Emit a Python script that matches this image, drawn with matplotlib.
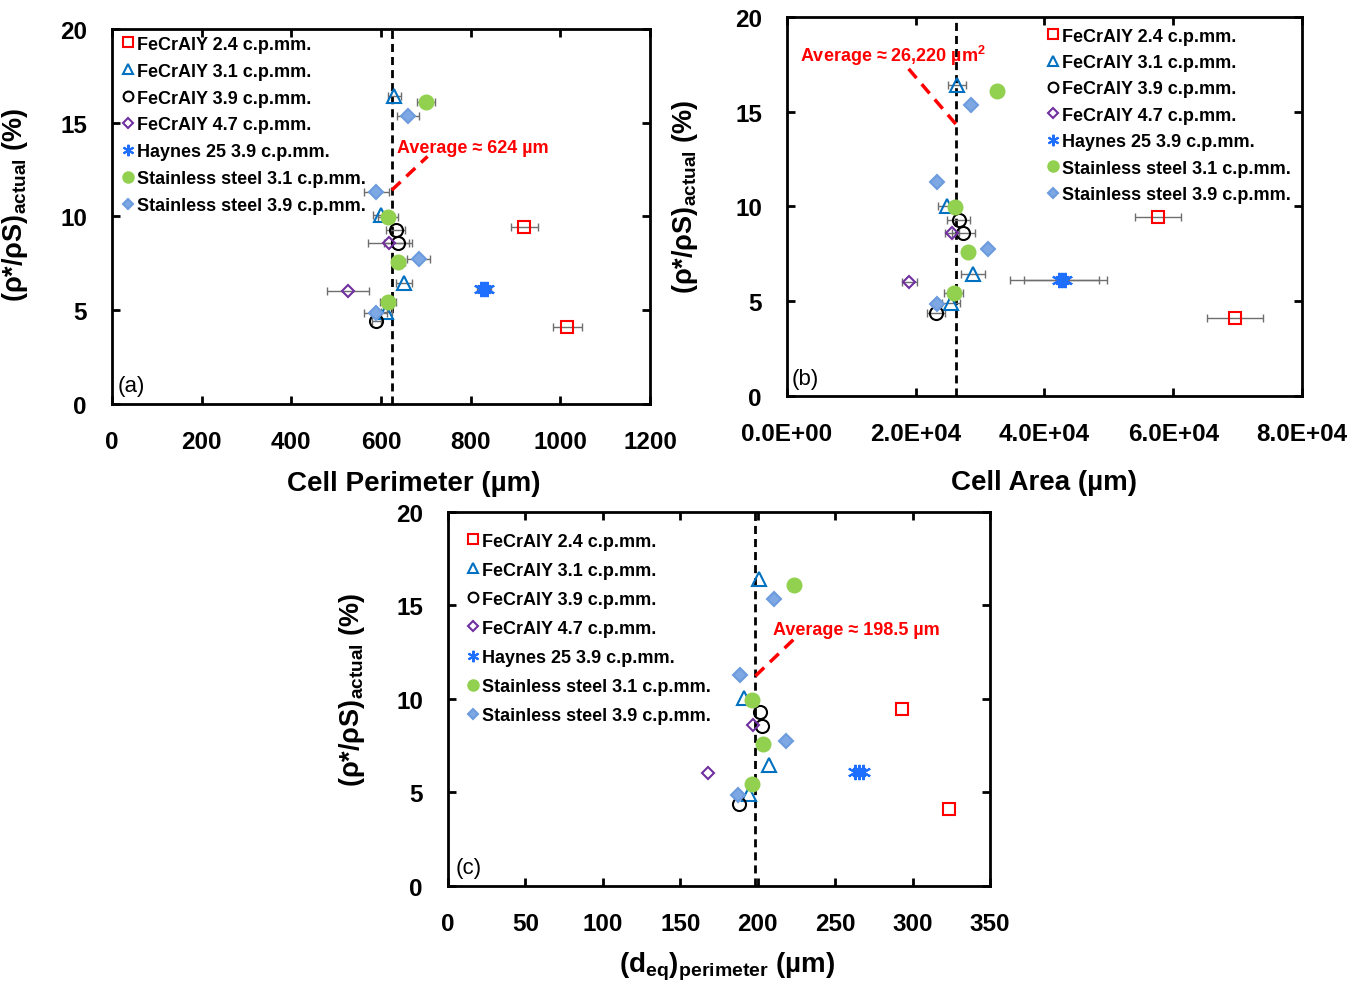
import numpy as np
import matplotlib.pyplot as plt

plt.rcParams['font.family'] = ['Liberation Sans', 'DejaVu Sans']
plt.rcParams['mathtext.fontset'] = 'custom'
plt.rcParams['mathtext.rm'] = 'Liberation Sans:bold'
plt.rcParams['mathtext.it'] = 'Liberation Sans:bold:italic'
plt.rcParams['mathtext.bf'] = 'Liberation Sans:bold'

# foam samples
series = ["FeCrAlY 2.4 c.p.mm.", "FeCrAlY 3.1 c.p.mm.", "FeCrAlY 3.9 c.p.mm.",
          "FeCrAlY 4.7 c.p.mm.", "Haynes 25 3.9 c.p.mm.",
          "Stainless steel 3.1 c.p.mm.", "Stainless steel 3.9 c.p.mm."]

# relative density (%) for each sample
density = [
    [9.45, 4.10],
    [16.4, 10.05, 6.45, 4.90],
    [9.28, 8.58, 4.40],
    [8.60, 6.03],
    [6.12, 6.12, 6.12],
    [16.1, 9.97, 7.58, 5.43],
    [15.33, 11.3, 7.73, 4.85],
]

# cell perimeter (um) and std dev
perimeter = [
    [920, 1016],
    [630, 600, 652, 612],
    [633, 638, 590],
    [617, 526],
    [823, 830, 837],
    [701, 615, 639, 615],
    [660, 590, 684, 588],
]
perimeter_err = [
    [30, 32],
    [15, 18, 18, 12],
    [21, 31, 10],
    [45, 47],
    [8, 8, 8],
    [20, 22, 15, 18],
    [25, 27, 26, 25],
]

# cell area (um^2) and std dev
area = [
    [57600, 69600],
    [26400, 24800, 28900, 25500],
    [26700, 27400, 23200],
    [25700, 19000],
    [42200, 42700, 43200],
    [32600, 26100, 28100, 25900],
    [28600, 23300, 31200, 23300],
]
area_err = [
    [3600, 4400],
    [1400, 1300, 1800, 1400],
    [1800, 1800, 1400],
    [1100, 1200],
    [7500, 5800, 600],
    [0, 0, 0, 1500],
    [0, 0, 0, 0],
]

# equivalent diameter from perimeter (um)
d_eq = [
    [293, 323.4],
    [200.8, 191, 207.2, 194.3],
    [201.4, 202.7, 188],
    [197, 168],
    [263, 265.5, 268],
    [223.4, 196.3, 203.4, 196.2],
    [210.5, 188.5, 218.2, 187.4],
]

avg_perimeter = 624
avg_area = 26220
avg_deq = 198.5

markers = ['s', '^', 'o', 'D', (6, 2, 0), 'o', 'D']
edge_colors = ['#FF0000', '#0070C0', '#000000', '#7030A0', '#1F6FFF', '#92D050', '#6C9CDE']
face_colors = ['none', 'none', 'none', 'none', '#1F6FFF', '#92D050', '#7EA8E4']
sizes = [9, 9.4, 9.4, 6.6, 11, 10, 7]

ylabel = '(ρ*/ρS)$_{\\mathrm{actual}}$ (%)'


def draw_panel(ax, xs, errs, xlim, xticks):
    for i, name in enumerate(series):
        if errs is not None:
            ax.errorbar(xs[i], density[i], xerr=errs[i], fmt='none', ecolor='#6E6E6E',
                        elinewidth=1, capsize=3, capthick=1, zorder=2)
        ax.plot(xs[i], density[i], linestyle='none', marker=markers[i], ms=sizes[i],
                mec=edge_colors[i], mfc=face_colors[i], mew=1.5, label=name, zorder=3)
    ax.set_xlim(*xlim)
    ax.set_ylim(0, 20)
    ax.set_xticks(xticks)
    ax.set_yticks([0, 5, 10, 15, 20])
    ax.tick_params(direction='in', top=True, right=True, length=6, width=2,
                   labelsize=17.5, pad=18)
    ax.tick_params(axis='x', pad=19)
    for lab in ax.get_xticklabels() + ax.get_yticklabels():
        lab.set_fontweight('bold')
    for sp in ax.spines.values():
        sp.set_linewidth(2)
    ax.set_ylabel(ylabel, fontsize=19.5, fontweight='bold')


def add_legend(ax, anchor, spacing):
    ax.legend(loc='upper left', bbox_to_anchor=anchor, frameon=False,
              prop={'weight': 'bold', 'size': 13}, handlelength=0.6, handletextpad=0.2,
              labelspacing=spacing, borderpad=0, borderaxespad=0, markerscale=0.75)


fig = plt.figure(figsize=(13.62, 9.87), dpi=100)

# (a) cell perimeter
ax1 = fig.add_axes([0.0822, 0.5897, 0.395, 0.380])
draw_panel(ax1, perimeter, perimeter_err, (0, 1200), np.arange(0, 1201, 200))
ax1.axvline(avg_perimeter, color='black', lw=2, ls=(0, (2.9, 1.8)), zorder=1)
ax1.plot([avg_perimeter, 704], [11.4, 13.2], color='red', lw=2.5, ls=(0, (3.5, 2.3)))
ax1.text(635, 13.7, 'Average ≈ %d µm' % avg_perimeter, color='red', fontsize=13,
         fontweight='bold', va='center')
ax1.set_xlabel('Cell Perimeter (µm)', fontsize=20, fontweight='bold', va='center')
ax1.xaxis.set_label_coords(0.561, -0.21)
ax1.yaxis.set_label_coords(-0.152, 0.533)
ax1.text(0.01, 0.05, '(a)', transform=ax1.transAxes, fontsize=16, va='center')
add_legend(ax1, (0.02, 0.982), 0.55)

# (b) cell area
ax2 = fig.add_axes([0.5778, 0.5978, 0.3781, 0.384])
draw_panel(ax2, area, area_err, (0, 80000), np.arange(0, 80001, 20000))
ax2.set_xticklabels(['{:.1E}'.format(v) for v in np.arange(0, 80001, 20000)],
                    fontweight='bold')
ax2.axvline(avg_area, color='black', lw=2, ls=(0, (2.9, 1.8)), zorder=1)
ax2.plot([avg_area, 18300], [14.35, 17.5], color='red', lw=2.5, ls=(0, (3.5, 2.3)))
ax2.text(2000, 18.0, 'Average ≈ {:,} µm$^{{2}}$'.format(avg_area), color='red',
         fontsize=13, fontweight='bold', va='center')
ax2.set_xlabel('Cell Area (µm)', fontsize=20, fontweight='bold', va='center')
ax2.xaxis.set_label_coords(0.5, -0.227)
ax2.yaxis.set_label_coords(-0.169, 0.528)
ax2.text(0.01, 0.045, '(b)', transform=ax2.transAxes, fontsize=16, va='center')
add_legend(ax2, (0.507, 0.972), 0.52)

# (c) equivalent diameter
ax3 = fig.add_axes([0.3289, 0.1013, 0.398, 0.379])
draw_panel(ax3, d_eq, None, (0, 350), np.arange(0, 351, 50))
ax3.axvline(avg_deq, color='black', lw=2, ls=(0, (2.9, 1.8)), zorder=1)
ax3.plot([avg_deq, 223.4], [11.23, 13.2], color='red', lw=2.5, ls=(0, (3.5, 2.3)))
ax3.text(209.8, 13.74, 'Average ≈ %.1f µm' % avg_deq, color='red', fontsize=13,
         fontweight='bold', va='center')
ax3.set_xlabel('(d$_{\\mathrm{eq}}$)$_{\\mathrm{perimeter}}$ (µm)', fontsize=20,
               fontweight='bold', va='center')
ax3.xaxis.set_label_coords(0.515, -0.214)
ax3.yaxis.set_label_coords(-0.149, 0.527)
ax3.text(0.015, 0.05, '(c)', transform=ax3.transAxes, fontsize=16, va='center')
add_legend(ax3, (0.037, 0.945), 0.67)

fig.savefig('out.png', dpi=100)
